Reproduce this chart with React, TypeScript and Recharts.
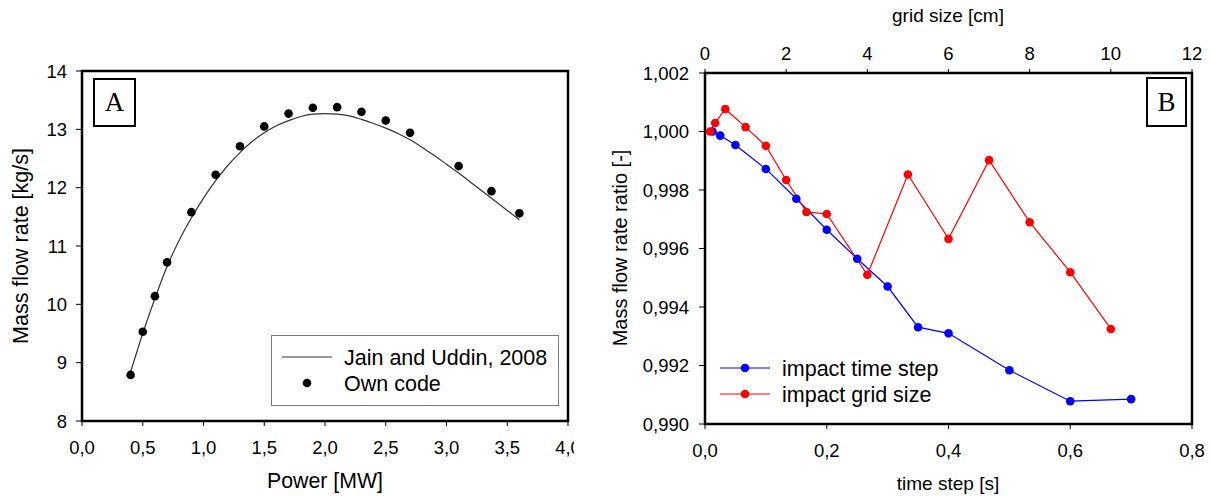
import React from "react"
import {
  ComposedChart,
  LineChart,
  Line,
  Scatter,
  XAxis,
  YAxis,
  ReferenceArea,
  Legend,
} from "recharts"

const font = '"Liberation Sans", Arial, sans-serif'

// panel A: Jain and Uddin curve + own code points
const curvePower = [0.4, 0.5, 0.6, 0.7, 0.8, 0.9, 1.0, 1.1, 1.2, 1.3, 1.4, 1.5, 1.6, 1.7, 1.8, 1.9, 2.0, 2.1, 2.2, 2.3, 2.4, 2.5, 2.6, 2.7, 2.8, 2.9, 3.0, 3.1, 3.2, 3.3, 3.4, 3.5, 3.6]
const curveFlow = [8.84, 9.5, 10.1, 10.65, 11.1, 11.48, 11.82, 12.12, 12.38, 12.6, 12.79, 12.94, 13.06, 13.15, 13.22, 13.26, 13.27, 13.26, 13.23, 13.17, 13.1, 13.02, 12.93, 12.82, 12.69, 12.55, 12.4, 12.25, 12.09, 11.93, 11.77, 11.61, 11.45]
const ownPower = [0.4, 0.5, 0.6, 0.7, 0.9, 1.1, 1.3, 1.5, 1.7, 1.9, 2.1, 2.3, 2.5, 2.7, 3.1, 3.37, 3.6]
const ownFlow = [8.79, 9.53, 10.14, 10.72, 11.58, 12.22, 12.71, 13.05, 13.27, 13.37, 13.38, 13.3, 13.15, 12.94, 12.37, 11.94, 11.56]
const powerTicks = [0, 0.5, 1, 1.5, 2, 2.5, 3, 3.5, 4]
const flowTicks = [8, 9, 10, 11, 12, 13, 14]
const powerSeries = ["Jain and Uddin, 2008", "Own code"]

// panel B: sensitivity to time step and grid size
const timeStep = [0.0125, 0.025, 0.05, 0.1, 0.15, 0.2, 0.25, 0.3, 0.35, 0.4, 0.5, 0.6, 0.7]
const timeRatio = [1.0, 0.99986, 0.99954, 0.99872, 0.9977, 0.99664, 0.99565, 0.9947, 0.99331, 0.9931, 0.99184, 0.99078, 0.99085]
const gridSize = [0.125, 0.25, 0.5, 1, 1.5, 2, 2.5, 3, 4, 5, 6, 7, 8, 9, 10]
const gridRatio = [1.0, 1.00029, 1.00077, 1.00015, 0.99951, 0.99834, 0.99725, 0.99718, 0.9951, 0.99853, 0.99633, 0.99902, 0.9969, 0.99519, 0.99325]
const timeTicks = [0, 0.2, 0.4, 0.6, 0.8]
const gridTicks = [0, 2, 4, 6, 8, 10, 12]
const ratioTicks = [0.99, 0.992, 0.994, 0.996, 0.998, 1.0, 1.002]
const ratioSeries = ["impact time step", "impact grid size"]

const zip = (xs: number[], ys: number[]) => xs.map((x, i) => ({ x, y: ys[i] }))

const tickStyle = { fill: "#000", fontSize: 18.5, fontFamily: font }
const comma = (d: number) => (v: number) => v.toFixed(d).replace(".", ",")

function Title({ text, x, y, size, rotate = false }: { text: string; x: number; y: number; size: number; rotate?: boolean }) {
  return (
    <div
      style={{
        position: "absolute",
        left: x,
        top: y,
        transform: `translate(-50%, -50%)${rotate ? " rotate(-90deg)" : ""}`,
        whiteSpace: "nowrap",
        fontSize: size,
        lineHeight: 1,
        fontFamily: font,
        color: "#000",
      }}
    >
      {text}
    </div>
  )
}

function PanelTag({ text, x, y, w, h }: { text: string; x: number; y: number; w: number; h: number }) {
  return (
    <div
      style={{
        position: "absolute",
        left: x,
        top: y,
        width: w,
        height: h,
        boxSizing: "border-box",
        border: "2px solid #000",
        background: "#fff",
        display: "flex",
        alignItems: "center",
        justifyContent: "center",
        fontFamily: '"Liberation Serif", "Times New Roman", serif',
        fontSize: 27,
        lineHeight: 1,
      }}
    >
      {text}
    </div>
  )
}

function LegendRows({ payload, order, width, height, firstRow, withLineDots }: any) {
  const items = [...(payload || [])].sort((a: any, b: any) => order.indexOf(a.value) - order.indexOf(b.value))
  return (
    <svg width={width} height={height} style={{ display: "block" }}>
      {items.map((entry: any, i: number) => {
        const cy = firstRow + i * 26
        const showLine = withLineDots || entry.type === "line"
        const showDot = withLineDots || entry.type !== "line"
        return (
          <g key={entry.value}>
            {showLine && <line x1={10} x2={60} y1={cy} y2={cy} stroke={entry.color} strokeWidth={1.2} />}
            {showDot && <circle cx={35} cy={cy} r={4.3} fill={entry.color} />}
            <text x={72} y={cy} dy="0.36em" fontSize={21.5} fontFamily={font} fill="#000">
              {entry.value}
            </text>
          </g>
        )
      })}
    </svg>
  )
}

function PowerChart() {
  return (
    <div style={{ position: "absolute", left: 0, top: 0, width: 574, height: 497, overflow: "hidden" }}>
      <ComposedChart width={600} height={497} margin={{ top: 71, right: 32, bottom: 36, left: 22 }}>
        <XAxis
          type="number"
          dataKey="x"
          domain={[0, 4]}
          ticks={powerTicks}
          interval={0}
          allowDataOverflow
          tickFormatter={comma(1)}
          height={40}
          axisLine={false}
          stroke="#000"
          tickSize={5}
          tickMargin={15}
          tick={tickStyle}
        />
        <YAxis
          type="number"
          dataKey="y"
          domain={[8, 14]}
          ticks={flowTicks}
          interval={0}
          allowDataOverflow
          width={60}
          axisLine={false}
          stroke="#000"
          tickSize={6}
          tickMargin={9}
          tick={tickStyle}
        />
        <ReferenceArea x1={0} x2={4} y1={8} y2={14} fill="none" stroke="#000" strokeWidth={2.5} />
        <Line
          data={zip(curvePower, curveFlow)}
          dataKey="y"
          name={powerSeries[0]}
          type="monotone"
          stroke="#333"
          strokeWidth={1.2}
          dot={false}
          activeDot={false}
          legendType="line"
          isAnimationActive={false}
        />
        <Scatter
          data={zip(ownPower, ownFlow)}
          dataKey="y"
          name={powerSeries[1]}
          fill="#000"
          legendType="circle"
          shape={(p: any) => <circle cx={p.cx} cy={p.cy} r={4.3} fill="#000" />}
          isAnimationActive={false}
        />
        <Legend
          layout="vertical"
          align="center"
          verticalAlign="middle"
          wrapperStyle={{
            left: 271,
            top: 335,
            right: "auto",
            bottom: "auto",
            width: 288,
            height: 71,
            boxSizing: "border-box",
            border: "1.5px solid #7a7a7a",
            background: "#fff",
          }}
          content={(props: any) => (
            <LegendRows payload={props.payload} order={powerSeries} width={284} height={67} firstRow={21} />
          )}
        />
      </ComposedChart>
      <Title text="Mass flow rate [kg/s]" x={22} y={246} size={21.5} rotate />
      <Title text="Power [MW]" x={325} y={482} size={21.3} />
      <PanelTag text="A" x={93} y={78} w={43} h={49} />
    </div>
  )
}

function ConvergenceChart() {
  return (
    <div style={{ position: "absolute", left: 580, top: 0, width: 632, height: 497 }}>
      <LineChart width={632} height={497} margin={{ top: 43, right: 20, bottom: 33, left: 45 }}>
        <XAxis
          xAxisId="time"
          type="number"
          dataKey="x"
          orientation="bottom"
          domain={[0, 0.8]}
          ticks={timeTicks}
          interval={0}
          allowDataOverflow
          tickFormatter={comma(1)}
          height={40}
          axisLine={false}
          stroke="#000"
          tickSize={5}
          tickMargin={15}
          tick={tickStyle}
        />
        <XAxis
          xAxisId="grid"
          type="number"
          dataKey="x"
          orientation="top"
          domain={[0, 12]}
          ticks={gridTicks}
          interval={0}
          allowDataOverflow
          height={30}
          axisLine={false}
          stroke="#000"
          tickSize={4}
          tickMargin={9}
          tick={tickStyle}
        />
        <YAxis
          type="number"
          dataKey="y"
          domain={[0.99, 1.002]}
          ticks={ratioTicks}
          interval={0}
          allowDataOverflow
          tickFormatter={comma(3)}
          width={80}
          axisLine={false}
          stroke="#000"
          tickSize={6}
          tickMargin={10}
          tick={tickStyle}
        />
        <ReferenceArea xAxisId="time" x1={0} x2={0.8} y1={0.99} y2={1.002} fill="none" stroke="#000" strokeWidth={2.5} />
        <Line
          xAxisId="time"
          data={zip(timeStep, timeRatio)}
          dataKey="y"
          name={ratioSeries[0]}
          type="linear"
          stroke="#0000ff"
          strokeWidth={1.2}
          dot={{ r: 4.3, fill: "#0000ff", stroke: "#0000ff", strokeWidth: 0 }}
          activeDot={false}
          isAnimationActive={false}
        />
        <Line
          xAxisId="grid"
          data={zip(gridSize, gridRatio)}
          dataKey="y"
          name={ratioSeries[1]}
          type="linear"
          stroke="#ff0000"
          strokeWidth={1.2}
          dot={{ r: 4.3, fill: "#ff0000", stroke: "#ff0000", strokeWidth: 0 }}
          activeDot={false}
          isAnimationActive={false}
        />
        <Legend
          layout="vertical"
          align="center"
          verticalAlign="middle"
          wrapperStyle={{ left: 130, top: 350, right: "auto", bottom: "auto", width: 260, height: 62 }}
          content={(props: any) => (
            <LegendRows payload={props.payload} order={ratioSeries} width={260} height={62} firstRow={18} withLineDots />
          )}
        />
      </LineChart>
      <Title text="Mass flow rate ratio [-]" x={39.5} y={248} size={20} rotate />
      <Title text="grid size [cm]" x={368} y={15} size={19} />
      <Title text="time step [s]" x={368} y={483} size={19} />
      <PanelTag text="B" x={566} y={77} w={41} h={50} />
    </div>
  )
}

export default function App() {
  return (
    <div style={{ position: "absolute", left: 0, top: 0, width: 1212, height: 497, background: "#fff" }}>
      <PowerChart />
      <ConvergenceChart />
    </div>
  )
}
